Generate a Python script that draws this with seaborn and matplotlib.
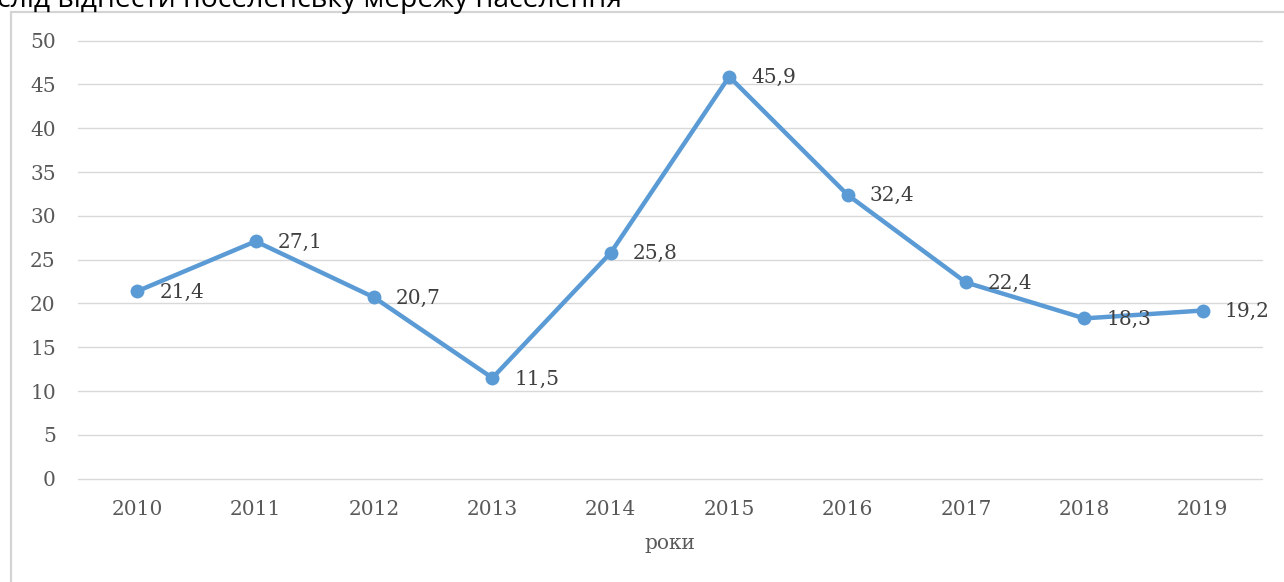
import matplotlib
matplotlib.use("Agg")
import matplotlib.pyplot as plt
import seaborn as sns
import pandas as pd
from matplotlib.patches import Rectangle

years = ["2010", "2011", "2012", "2013", "2014", "2015", "2016", "2017", "2018", "2019"]
values = [21.4, 27.1, 20.7, 11.5, 25.8, 45.9, 32.4, 22.4, 18.3, 19.2]
value_labels = ["21,4", "27,1", "20,7", "11,5", "25,8", "45,9", "32,4", "22,4", "18,3", "19,2"]
y_ticks = [0, 5, 10, 15, 20, 25, 30, 35, 40, 45, 50]
x_title = "роки"
top_text = "слід віднести поселенську мережу населення"

sns.set_theme(style="white")
plt.rcParams["font.family"] = ["DejaVu Serif"]

W, H = 1284, 582
fig = plt.figure(figsize=(W / 100, H / 100), dpi=100)
fig.patch.set_facecolor("white")

# outer frame (partially cropped)
fig.patches.append(Rectangle((11 / W, -0.1), 1.2, 1 - 12 / H + 0.1, transform=fig.transFigure,
                             fill=False, edgecolor="#D4D4D4", linewidth=1.6, zorder=0))

fig.text(-3 / W, 1 - 7 / H, top_text, family=["Open Sans", "DejaVu Sans"], fontsize=20.3,
         color="black", ha="left", va="baseline")

ax = fig.add_axes([78 / W, 1 - 478.7 / H, (1262 - 78) / W, (478.7 - 40.7) / H])
df = pd.DataFrame({"year": years, "value": values})
sns.lineplot(data=df, x="year", y="value", ax=ax, color="#5B9BD5", linewidth=3.2,
             marker="o", markersize=10, markeredgewidth=0, sort=False, zorder=3)

ax.set_xlim(-0.5, len(years) - 0.5)
ax.set_ylim(0, 50)
ax.set_yticks(y_ticks)
ax.set_yticklabels([str(t) for t in y_ticks])
ax.grid(axis="y", color="#D9D9D9", linewidth=1.0)
ax.grid(axis="x", visible=False)
for gl in ax.get_ygridlines():
    gl.set_clip_on(False)
for s in ax.spines.values():
    s.set_visible(False)
ax.tick_params(axis="both", length=0, labelsize=14.5, labelcolor="#595959")
ax.tick_params(axis="y", pad=16)
ax.tick_params(axis="x", pad=15)
ax.set_xlabel(x_title, fontsize=14.5, color="#595959", labelpad=11)
ax.set_ylabel("")

for i, (v, lab) in enumerate(zip(values, value_labels)):
    ax.annotate(lab, (i, v), xytext=(22, -1), textcoords="offset pixels",
                ha="left", va="center", fontsize=14.5, color="#404040", zorder=4)

fig.savefig("out.png", dpi=100, facecolor="white")
